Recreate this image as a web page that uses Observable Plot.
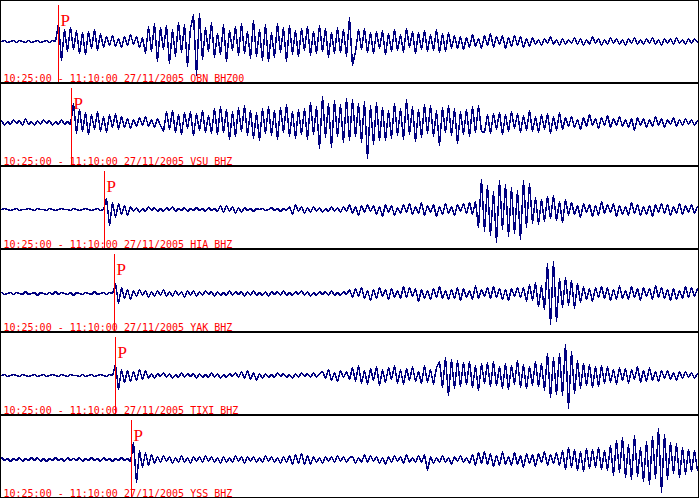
<!DOCTYPE html>
<html><head><meta charset="utf-8">
<script src="https://cdn.jsdelivr.net/npm/d3@7"></script>
<script src="https://cdn.jsdelivr.net/npm/@observablehq/plot@0.6"></script>
<style>
html,body{margin:0;padding:0;background:#fff;}
#chart{width:700px;}
#chart svg{display:block;}
</style></head><body><div id="chart"></div>
<script>
// Record: 10:25:00 - 11:10:00 (2700 s), resampled every 2700/232 s
const timeSpan = "10:25:00 - 11:10:00 27/11/2005";
const stations = ["OBN BHZ00", "VSU BHZ", "HIA BHZ", "YAK BHZ", "TIXI BHZ", "YSS BHZ"];
const pArrival = [221, 272, 400, 438, 442, 504]; // seconds after 10:25:00
const recordLength = 2700;
const sampleInterval = 2700 / 232;

const traceOBN = [0,1,-1,0,1,-1,1,0,-1,1,-1,0,1,-1,0,1,-1,1,0,
18,-19,12,-10,14,-8,11,-12,9,-13,10,-7,12,-9,8,
-6,5,-4,6,-5,3,-6,5,-4,7,-3,5,-6,4,
-12,15,-10,18,-20,14,-8,16,-22,12,-15,19,-11,17,-25,13,27,-34,28,
-18,14,-10,19,-16,8,-13,17,-20,11,
-9,15,-14,18,-12,10,-17,21,-15,12,
-19,17,-20,9,-16,18,-11,14,-20,16,
-13,11,-15,13,-9,15,-14,10,-12,16,
-10,13,-16,9,-12,14,-11,12,-15,
24,-24,
-10,12,-8,13,-11,9,-12,10,-7,11,-13,8,-10,12,-9,7,-11,13,-6,10,-12,9,-8,11,-10,7,-9,12,-11,8,-10,9,-7,
6,-7,5,-8,4,-6,7,-5,3,-7,6,-4,8,-6,5,-3,6,-7,4,-5,6,-4,5,-6,3,-5,
4,-3,2,-4,3,-2,5,-3,2,-4,3,-3,2,-2,4,-3,3,-4,2,-3,5,-2,3,-4,2,-3,4,-2,3,-3,2,-4,3,-2,4,-3,2,-3,3,-2,4,-3,2,-4,3,-2,3,-3,4,-2,2,-3,3,-2,3,-1];

const traceVSU = [2,-3,1,-2,3,-1,2,-3,4,-2,1,-3,2,-2,3,-1,2,-3,1,-2,3,-2,1,-2,
19,-11,13,-9,10,-12,8,-7,11,-9,6,-10,8,-5,9,-7,6,
-5,4,-6,3,-4,5,-3,6,-4,3,-5,4,-3,
-9,11,-7,12,-10,8,-12,10,-6,11,-13,9,-8,12,-10,7,-11,
14,-12,16,-10,13,-17,11,-14,15,-9,17,-13,12,-16,10,-18,14,-11,16,-13,12,-17,15,-10,18,-14,11,-16,13,-12,
14,-17,20,-12,16,-26,26,-15,19,-25,22,-14,18,-20,24,-18,
23,-14,19,-20,21,-36,17,-22,20,-18,
15,-18,12,-16,19,-13,14,-17,23,-12,16,-19,13,-15,18,-11,17,-14,12,-23,15,-10,17,-13,14,-21,11,-12,13,-14,16,-10,17,-9,
-10,8,-11,9,-7,10,-12,8,-9,11,-6,9,-10,7,-8,12,-9,6,-10,8,-7,9,-11,6,-8,10,-7,
5,-4,6,-5,3,-7,5,-4,8,-3,4,-6,5,-3,7,-5,4,-3,6,-4,3,-5,4,-8,5,-3,4,-5,3,-4,6,-3,4,-5,3,-2,5,-4,3,-3,4,-2,3,-3,2];

const traceHIA = [0,1,0,-1,0,1,-1,0,0,1,0,-1,1,0,0,-1,1,0,-1,0,1,0,0,-1,1,0,-1,0,1,0,-1,0,1,-1,0,
11,-16,7,-8,6,-5,4,-6,
3,-2,2,-3,1,-2,3,-1,2,-2,1,-2,2,-1,3,-2,1,-1,2,-2,1,-1,2,-1,1,-2,2,-1,1,-2,
4,-3,4,-2,3,-4,2,-3,
2,-1,1,-2,1,0,1,-1,0,2,-1,1,-2,1,-1,
3,-5,5,-2,3,-4,
2,-3,3,-2,2,-3,1,-2,3,-2,2,-3,3,-2,
5,-4,3,-6,4,-3,5,-2,4,-5,3,-7,5,-3,4,-6,2,-4,5,-3,6,-5,3,-4,7,-6,4,-3,5,-7,3,-5,6,-4,3,-6,5,-2,6,-4,7,-5,
8,-18,30,-22,24,-26,18,-33,29,-20,25,-27,22,-24,19,-30,29,-18,26,
-14,12,-15,10,-12,13,-9,14,-11,8,-13,10,
-6,7,-5,4,-8,6,-3,5,-7,4,-6,8,-4,5,-3,6,-7,4,-5,3,-6,7,-4,5,-6,3,-5,4,-7,5,-3,6,-4,5,-6,3,-4,6,-5,4,-3,5,-4,3];

const traceYAK = [1,-1,0,1,-1,1,0,-1,2,-1,0,1,-2,1,0,-1,1,-1,2,-1,1,0,-1,1,-2,1,0,-1,1,0,-1,2,-1,0,1,-1,1,0,
10,-10,6,-5,4,-6,3,
-3,4,-2,3,-4,2,-3,3,-2,4,-3,2,-3,3,-2,2,-4,3,-2,3,-3,2,-2,3,-1,2,-3,2,-2,1,-2,3,-2,2,-1,2,-3,2,-2,3,-2,1,-2,2,-3,2,-1,2,-2,3,-2,1,-2,2,-1,3,-2,2,-3,1,-2,2,-1,2,-2,3,-2,1,-2,2,-1,4,
-4,5,-3,6,-5,3,-7,4,-5,6,-3,4,-6,5,-4,3,-5,7,-4,6,-3,5,-8,4,-5,3,-6,5,-4,7,-5,3,-6,4,-5,6,-7,5,-4,3,-6,8,-5,4,-3,6,-5,7,-4,5,-6,4,-7,5,-3,6,-4,
6,-8,9,-7,11,-13,8,-16,30,-31,32,-28,15,-14,16,-12,13,-15,10,-9,
7,-6,5,-8,6,-4,7,-5,6,-7,4,-6,8,-5,3,-6,7,-4,5,-7,6,-3,5,-6,8,-4,6,-5,4,-7,5,-6,3,-5,7,-4,6,-3,5];

const traceTIXI = [0,1,-1,0,1,0,-1,1,0,-1,0,1,-1,0,1,-1,0,1,0,-1,1,0,-1,1,0,0,-1,1,-1,0,1,-1,0,1,0,-1,1,0,
11,-14,6,-7,5,-6,4,-5,6,-4,5,-3,
2,-3,2,-1,3,-2,2,-3,1,-2,3,-2,2,-1,2,-3,2,-2,1,-2,3,-2,2,-3,1,-2,2,-1,3,-2,4,-3,5,-4,3,-5,2,-3,2,-2,1,-2,3,-1,2,-2,1,-3,2,-2,3,-1,2,-2,3,-2,2,
4,-3,6,-5,3,-6,5,-2,4,-4,
8,-6,10,-8,5,-9,7,-5,9,-10,6,-7,8,-4,10,-8,6,-9,7,-5,9,-6,4,-8,10,-7,6,-9,8,
14,-12,18,-20,16,-13,15,
-11,13,-9,14,-12,10,-15,12,-8,13,-11,14,-10,9,-13,12,-14,10,-9,15,-12,11,-13,9,-10,14,-11,
12,-15,22,-22,18,-19,22,-20,31,-33,24,-18,15,-13,
12,-10,11,-12,9,-11,10,
-8,9,-7,6,-9,8,-5,7,-8,6,-4,9,-7,5,-6,8,-5,4,-6,5,-3,5,-4,3,-5,4,-3,4,-2,3,-3,2];

const traceYSS = [2,-1,1,-2,1,-1,2,-2,1,-1,2,-1,2,-2,1,-2,1,-1,2,-1,1,-2,2,-1,1,-1,2,-2,1,-1,2,-1,1,-2,2,-1,1,-2,1,-1,2,-1,1,-2,
17,-23,9,-8,7,-6,5,
-4,3,-3,4,-2,3,-4,2,-3,4,-3,2,-4,3,-2,3,-3,4,-2,3,-3,2,-4,3,-3,2,-3,4,-2,3,-4,3,-2,3,-3,2,-3,4,-2,3,-3,2,-4,3,-3,4,-5,5,-4,6,-5,4,-5,3,-3,2,-4,3,-2,3,-3,4,-2,3,-3,2,
3,-4,2,-3,5,-3,4,-2,3,-4,2,-5,3,-3,4,-2,3,-4,5,-3,2,-3,4,-3,5,-11,3,-4,2,-3,4,-3,2,-5,3,-2,4,-3,2,-4,
5,-6,7,-4,8,-5,6,-7,4,-6,8,-5,3,-6,7,-5,4,-8,6,-4,5,-7,6,-3,8,-6,5,-4,7,-6,
9,-10,12,-8,10,-11,8,-12,11,-9,10,-8,12,-10,9,-11,
14,-16,19,-13,22,-18,15,-20,24,-17,12,-22,18,-25,23,-19,31,-33,25,-20,17,-14,16,-18,12,-15,10,-12,9,-11];

const traces = [traceOBN, traceVSU, traceHIA, traceYAK, traceTIXI, traceYSS];

// layout: distance (px) from panel top to the trace zero line
const panelHeight = 83;
const zeroLine = [41, 39, 43, 44, 43, 44];

const root = document.getElementById("chart");
traces.forEach((trace, k) => {
  const data = trace.map((v, i) => ({t: i * sampleInterval, v}));
  const svg = Plot.plot({
    width: 700,
    height: panelHeight,
    margin: 0,
    style: {background: "white"},
    x: {domain: [0, recordLength], range: [1, 697], axis: null},
    y: {domain: [zeroLine[k] - panelHeight, zeroLine[k]], range: [panelHeight, 0], axis: null},
    marks: [
      Plot.line(data, {x: "t", y: "v", stroke: "#000080", strokeWidth: 1.5, shapeRendering: "crispEdges"}),
      Plot.ruleX([pArrival[k]], {x: d => d, stroke: "red", strokeWidth: 1, insetTop: 5, shapeRendering: "crispEdges"}),
      Plot.text([pArrival[k]], {x: d => d, frameAnchor: "top", lineAnchor: "bottom", dx: 2, dy: 25,
        text: () => "P", textAnchor: "start", fill: "red", fontSize: 17, fontFamily: "Liberation Serif"}),
      Plot.text([`${timeSpan} ${stations[k]}`], {frameAnchor: "bottom-left", lineAnchor: "bottom", dx: 3, dy: -2,
        textAnchor: "start", fill: "red", fontSize: 10, fontFamily: "DejaVu Sans Mono"}),
      Plot.frame({stroke: "black", strokeWidth: 1, insetLeft: 0, insetTop: 0, insetBottom: 1, insetRight: 2, shapeRendering: "crispEdges"})
    ]
  });
  root.append(svg);
});
</script></body></html>
